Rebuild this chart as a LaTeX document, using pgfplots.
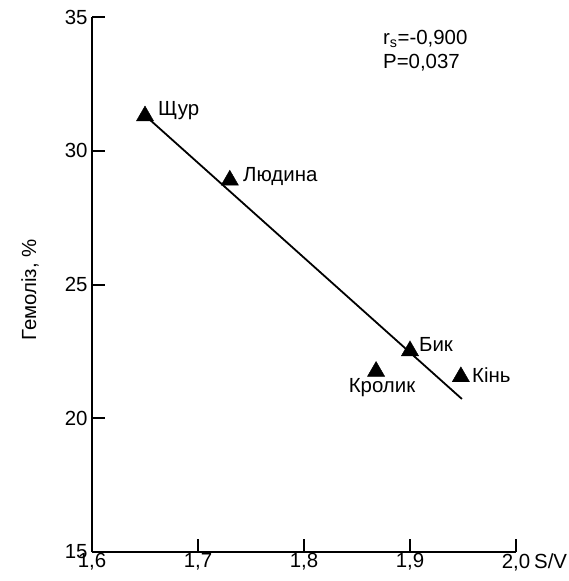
\documentclass[border=0pt]{standalone}
\usepackage{pgfplots}
\pgfplotsset{compat=1.18}
\usepackage{fontspec}
\setmainfont{Liberation Sans}
\newcommand\bigf{\fontsize{20.5}{24}\selectfont}
\begin{document}
\begin{tikzpicture}
\begin{axis}[
  scale only axis,
  width=424bp, height=535bp,
  xmin=1.6, xmax=2.0, ymin=15, ymax=35,
  axis x line*=bottom, axis y line*=left,
  x axis line style={line width=2pt},
  y axis line style={line width=2pt},
  tick align=inside,
  major tick length=13bp,
  tick style={line width=2pt, black},
  xtick={1.6,1.7,1.8,1.9,2.0},
  xticklabels={{1,6},{1,7},{1,8},{1,9},{2,0\rlap{\hspace{4bp}S/V}}},
  ytick={15,20,25,30,35},
  yticklabels={15,20,25,30,35},
  minor tick num=0,
  tick label style={font=\bigf},
  label style={font=\bigf},
  xticklabel style={yshift=2bp},
  yticklabel style={xshift=-1bp},
  ylabel={Гемоліз, \%},
  every axis y label/.style={at={(rel axis cs:-0.146,0.49)}, rotate=90, anchor=center, font=\bigf},
  clip=false,
]
\addplot[only marks, mark=triangle*, mark size=10pt, black] coordinates {
 (1.65,31.30) (1.73,28.90) (1.868,21.75) (1.90,22.52) (1.948,21.55)
};
\addplot[black, line width=1.8pt, mark=none] coordinates {(1.652,31.25) (1.949,20.72)};
\node[anchor=west, font=\bigf, inner sep=1pt] at (axis cs:1.6613,31.52) {Щур};
\node[anchor=west, font=\bigf, inner sep=1pt] at (axis cs:1.7415,29.02) {Людина};
\node[anchor=west, font=\bigf, inner sep=1pt] at (axis cs:1.9075,22.74) {Бик};
\node[anchor=west, font=\bigf, inner sep=1pt] at (axis cs:1.9575,21.62) {Кінь};
\node[anchor=center, font=\bigf] at (axis cs:1.8736,21.13) {Кролик};
\node[anchor=base west, font=\bigf, inner sep=0pt] at (axis cs:1.8745,33.99) {r\textsubscript{s}=-0,900};
\node[anchor=base west, font=\bigf, inner sep=0pt] at (axis cs:1.8745,33.06) {P=0,037};
\coordinate (bl) at (rel axis cs:-0.217,-0.0542);
\coordinate (tr) at (rel axis cs:1.125,1.0318);
\end{axis}
\pgfresetboundingbox
\path[use as bounding box] (bl) rectangle (tr);
\end{tikzpicture}
\end{document}
